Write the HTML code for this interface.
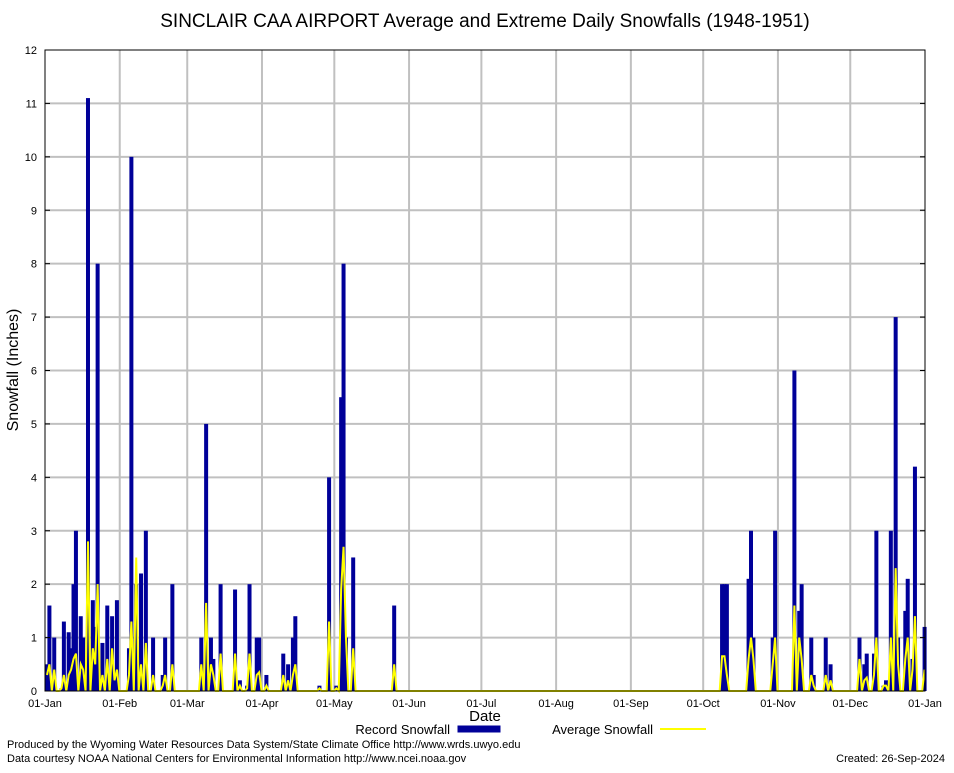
<!DOCTYPE html>
<html><head><meta charset="utf-8"><style>
body{margin:0;background:#fff;}
svg text{font-family:"Liberation Sans",sans-serif;}
</style></head><body>
<svg id="chart" width="954" height="768" xmlns="http://www.w3.org/2000/svg">
<rect width="954" height="768" fill="#fff"/>
<text x="485" y="27" font-size="19" text-anchor="middle">SINCLAIR CAA AIRPORT Average and Extreme Daily Snowfalls (1948-1951)</text>
<g id="grid"></g><g id="bars"></g><g id="avg"></g><g id="axes"></g>
<text transform="translate(18,370) rotate(-90)" font-size="16" text-anchor="middle">Snowfall (Inches)</text>
<text x="485" y="721" font-size="15" text-anchor="middle">Date</text>
<g>
<text x="450" y="734" font-size="13" text-anchor="end">Record Snowfall</text>
<rect x="458" y="726" width="42" height="6" fill="#000099" stroke="#000099"/>
<text x="653" y="734" font-size="13" text-anchor="end">Average Snowfall</text>
<line x1="660" y1="729" x2="706" y2="729" stroke="#ffff00" stroke-width="2"/>
</g>
<text x="7" y="748" font-size="11">Produced by the Wyoming Water Resources Data System/State Climate Office http://www.wrds.uwyo.edu</text>
<text x="7" y="762" font-size="11">Data courtesy NOAA National Centers for Environmental Information http://www.ncei.noaa.gov</text>
<text x="945" y="762" font-size="11" text-anchor="end">Created:  26-Sep-2024</text>
</svg>
<script>
const days=[1,2,4,7,8,10,11,12,13,15,
16,18,20,21,22,24,26,28,29,30,
35,36,38,40,42,45,49,50,53,65,
67,69,70,73,79,81,84,85,88,89,
92,99,101,103,104,114,118,121,123,124,
125,128,145,281,282,283,292,293,294,302,
303,311,313,314,318,319,324,326,338,340,
341,344,345,348,349,351,353,354,357,358,
360,361,365];
const record=[0.5,1.6,1.0,0.05,1.3,1.1,0.8,2.0,3.0,1.4,
1.0,11.1,1.7,1.2,8.0,0.9,1.6,1.4,0.2,1.7,
0.8,10.0,2.0,2.2,3.0,1.0,0.3,1.0,2.0,1.0,
5.0,1.0,0.6,2.0,1.9,0.2,0.1,2.0,1.0,1.0,
0.3,0.7,0.5,1.0,1.4,0.1,4.0,0.1,5.5,8.0,
1.0,2.5,1.6,2.0,2.0,2.0,2.1,3.0,1.0,1.0,
3.0,6.0,1.5,2.0,1.0,0.3,1.0,0.5,1.0,0.5,
0.7,0.7,3.0,0.1,0.2,3.0,7.0,1.0,1.5,2.1,
0.6,4.2,1.2];
const average=[0.3,0.5,0.4,0.05,0.3,0.3,0.4,0.6,0.7,0.5,
0.4,2.8,0.8,0.5,2.0,0.3,0.6,0.8,0.2,0.4,
0.3,1.3,2.5,0.5,0.9,0.3,0.1,0.3,0.5,0.5,
1.65,0.5,0.3,0.7,0.7,0.1,0.05,0.7,0.3,0.35,
0.1,0.3,0.2,0.3,0.5,0.05,1.3,0.05,1.9,2.7,
1.0,0.8,0.5,0.65,0.65,0.3,0.6,1.0,0.6,0.5,
1.0,1.6,1.0,0.6,0.3,0.1,0.3,0.2,0.6,0.2,
0.25,0.3,1.0,0.1,0.1,1.0,2.3,0.5,0.6,1.0,
0.4,1.4,0.4];
const yTicks=[0,1,2,3,4,5,6,7,8,9,10,11,12];
const monthLabels=["01-Jan","01-Feb","01-Mar","01-Apr","01-May","01-Jun","01-Jul","01-Aug","01-Sep","01-Oct","01-Nov","01-Dec","01-Jan"];
const monthStarts=[1,32,60,91,121,152,182,213,244,274,305,335,366];
const L=45,R=925,T=50,B=691,ND=365;
const xs=d=>L+(d-1)*(R-L)/ND;
const ys=v=>B-v*(B-T)/12;
const NS="http://www.w3.org/2000/svg";
function mk(tag,attrs,parent){const e=document.createElementNS(NS,tag);for(const k in attrs)e.setAttribute(k,attrs[k]);parent.appendChild(e);return e;}
const grid=document.getElementById('grid'),axes=document.getElementById('axes'),bars=document.getElementById('bars'),avg=document.getElementById('avg');
yTicks.forEach(t=>{
 if(t>0&&t<12){const g=mk('line',{x1:L,x2:R,y1:ys(t),y2:ys(t),stroke:'#c0c0c0','stroke-width':2},grid);
 
 }
 const tx=mk('text',{x:L-8,y:ys(t)+4,'font-size':11,'text-anchor':'end'},axes);tx.textContent=t;
 
 
 mk('line',{x1:L,x2:L+5,y1:ys(t),y2:ys(t),stroke:'#000'},axes);
 mk('line',{x1:R-5,x2:R,y1:ys(t),y2:ys(t),stroke:'#000'},axes);
});
monthStarts.forEach((d,i)=>{
 const x=xs(d);
 if(i>0&&i<12){const g=mk('line',{x1:x,x2:x,y1:T,y2:B,stroke:'#c0c0c0','stroke-width':2},grid);
 
 }
 const tx=mk('text',{x:x,y:B+16,'font-size':11,'text-anchor':'middle'},axes);tx.textContent=monthLabels[i];
 
 
});
const bw=4;
days.forEach((d,i)=>{
 const b=mk('rect',{x:xs(d),y:ys(record[i]),width:bw,height:B-ys(record[i]),fill:'#000099'},bars);
 
 
});
const vals=new Array(ND+2).fill(0);
days.forEach((d,i)=>{vals[d]=average[i];});
let pts=[];
for(let d=1;d<=ND;d++){const cx=xs(d)+2;pts.push(cx+','+ys(vals[d]));}
const pl=mk('polyline',{points:pts.join(' '),fill:'none',stroke:'#ffff00','stroke-width':2},avg);


const fr=mk('rect',{x:L,y:T,width:R-L,height:B-T,fill:'none',stroke:'#000','stroke-width':1},axes);


</script>
</body></html>
